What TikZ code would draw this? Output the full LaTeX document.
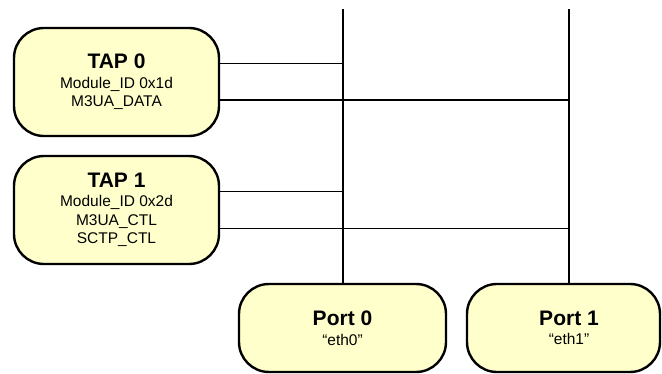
\documentclass[tikz,border=0pt]{standalone}
\usepackage{fontspec}
\setmainfont{Liberation Sans}
\definecolor{boxfill}{HTML}{FFFFCC}
\tikzset{
  unitbox/.style={draw=black, line width=2.4pt, fill=boxfill, rounded corners=30pt,
    inner sep=0pt, align=center, font=\fontsize{15.5}{18.5}\selectfont},
  wire/.style={draw=black, line width=1.3pt},
}
\newcommand{\ttl}[1]{{\fontsize{21}{20}\selectfont\bfseries #1}}
\begin{document}
\begin{tikzpicture}[x=1pt, y=-1pt]
  \useasboundingbox (0,0) rectangle (662,374);

  % TAP units on the left
  \node[unitbox, minimum width=205pt, minimum height=108pt] (tap0) at (116.5,82)
    {\ttl{TAP 0}\\[1pt] Module\_ID 0x1d\\ M3UA\_DATA};
  \node[unitbox, minimum width=205pt, minimum height=108pt] (tap1) at (116.5,210)
    {\ttl{TAP 1}\\[1pt] Module\_ID 0x2d\\ M3UA\_CTL\\ SCTP\_CTL};

  % Ethernet ports at the bottom
  \node[unitbox, minimum width=207pt, minimum height=88pt] (port0) at (342.5,328)
    {\ttl{Port 0}\\[1pt] “eth0”};
  \node[unitbox, minimum width=193pt, minimum height=88pt] (port1) at (563.5,328) {};
  \node[align=center, inner sep=0pt, font=\fontsize{15.5}{18.5}\selectfont] (port1text)
    at (569,328) {\ttl{Port 1}\\[1pt] “eth1”};

  % bus lines
  \coordinate (bus0top) at (343,9);
  \coordinate (bus1top) at (569,9);
  \coordinate (j00) at (343,63.5);
  \coordinate (j01) at (569,100);
  \coordinate (j10) at (343,191.7);
  \coordinate (j11) at (569,228.7);

  \draw[wire] (bus0top) -- (bus0top |- port0.north);
  \draw[wire] (bus1top) -- (bus1top |- port1.north);

  \draw[wire] (tap0.east |- j00) -- (j00);
  \draw[wire] (tap0.east |- j01) -- (j01);
  \draw[wire] (tap1.east |- j10) -- (j10);
  \draw[wire] (tap1.east |- j11) -- (j11);
\end{tikzpicture}
\end{document}
